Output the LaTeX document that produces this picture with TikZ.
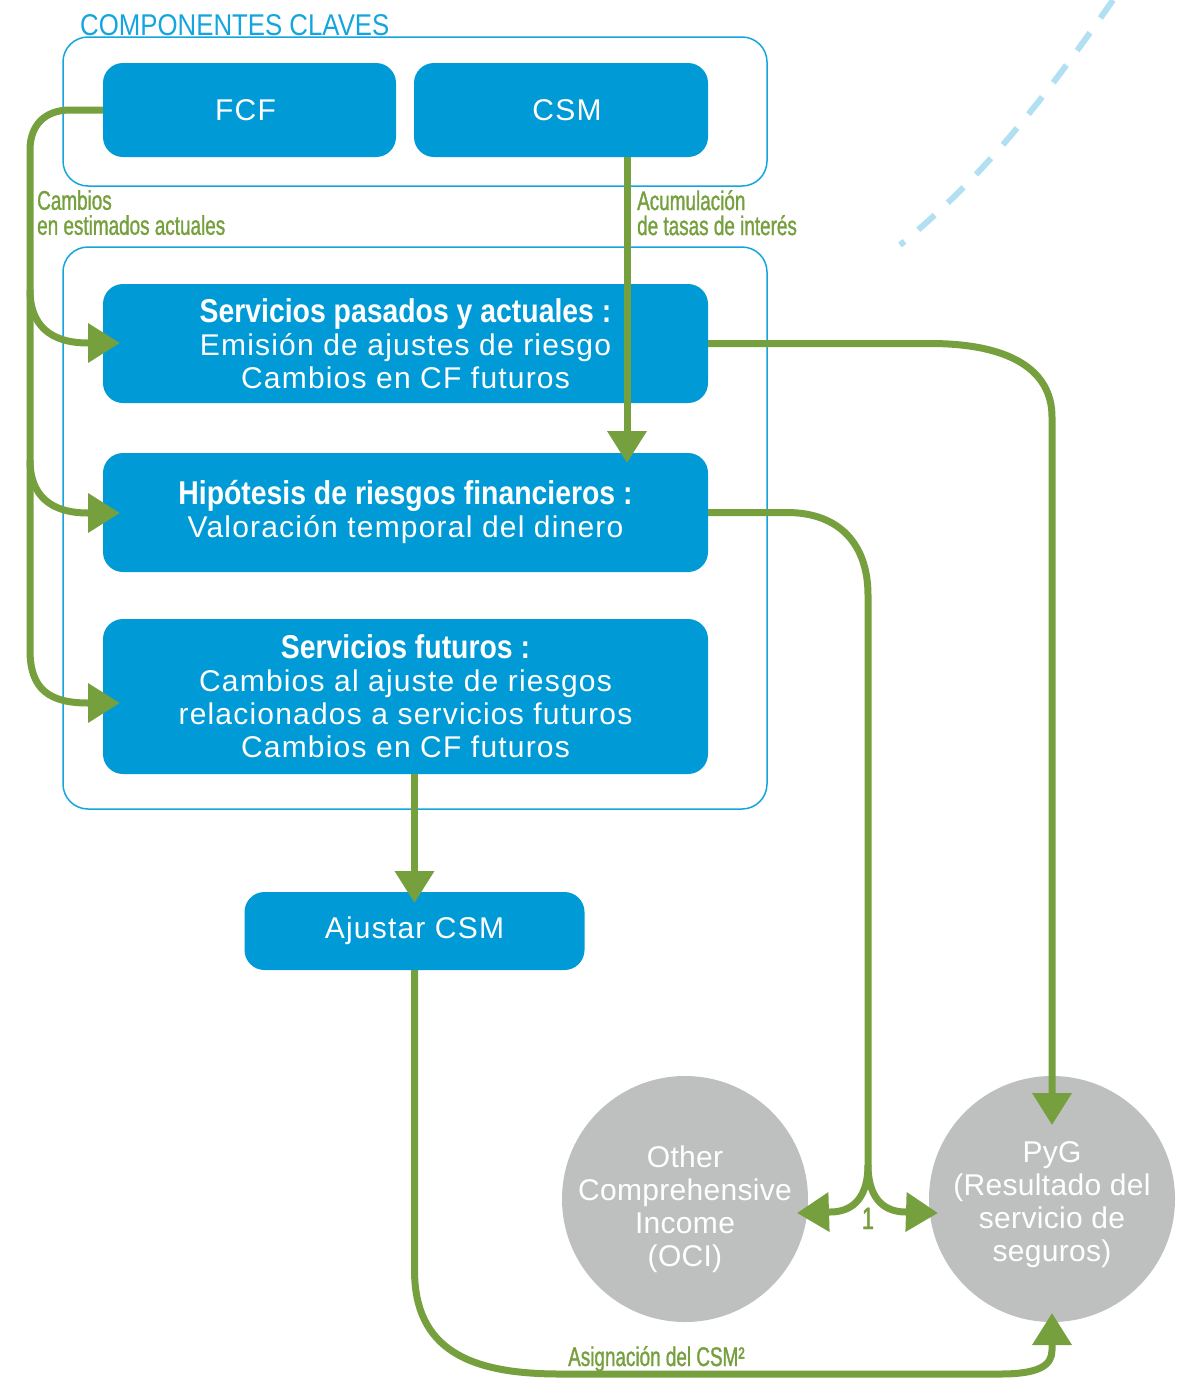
\documentclass[tikz,border=0pt]{standalone}
\usepackage{fontspec}
\setmainfont{Liberation Sans}
\newfontfamily\boxfont[LetterSpace=4]{Liberation Sans}
\newfontfamily\circfont[LetterSpace=1]{Liberation Sans}
\newfontfamily\headfont[FakeStretch=0.86]{Liberation Sans}
\newfontfamily\notefont[FakeStretch=0.7,FakeBold=1.2]{Liberation Sans}
\usetikzlibrary{arrows.meta}

\definecolor{ifrsblue}{RGB}{0,154,214}
\definecolor{frameblue}{RGB}{20,165,222}
\definecolor{flowgreen}{RGB}{118,160,62}
\definecolor{discgray}{RGB}{190,191,191}
\definecolor{dashblue}{RGB}{178,224,243}

\tikzset{
  panel/.style={rectangle, draw=frameblue, line width=1.5pt, rounded corners=25pt, inner sep=0pt},
  card/.style={rectangle, fill=ifrsblue, rounded corners=20pt, text=white, inner sep=0pt,
    align=center, font=\boxfont\fontsize{30}{33}\selectfont},
  disc/.style={circle, fill=discgray, minimum size=246pt, inner sep=0pt},
  disctext/.style={inner sep=0pt, text=white, align=center,
    font=\circfont\fontsize{30}{33}\selectfont},
  flowline/.style={draw=flowgreen, line width=7pt},
  flow/.style={flowline, -{Triangle[length=32pt,width=38pt]}},
  note/.style={text=flowgreen, inner sep=0pt, align=left, font=\notefont\fontsize{27}{25}\selectfont},
  headline/.style={text=frameblue, inner sep=0pt, font=\headfont\fontsize{30}{30}\selectfont},
  arc dashes/.style={draw=dashblue, line width=6pt, dash pattern=on 22pt off 18pt}
}

\begin{document}
\begin{tikzpicture}[x=1pt, y=-1pt]
\useasboundingbox (0,0) rectangle (1195,1379);

% containers
\node[panel, minimum width=704pt, minimum height=149pt] (keys) at (415,111.5) {};
\node[panel, minimum width=704pt, minimum height=562pt] (services) at (415,528) {};
\node[headline, anchor=base west] (title) at (80,35) {COMPONENTES CLAVES};

% decorative dashed arc
\draw[arc dashes] (1113,0) .. controls (1040,105) and (980,180) .. (900,245);

% blue cards
\node[card, minimum width=293pt, minimum height=94pt] (fcf) at (249.5,110) {\hspace*{-8pt}FCF};
\node[card, minimum width=294pt, minimum height=94pt] (csm) at (561,110) {\hspace*{12pt}CSM};
\node[card, minimum width=605pt, minimum height=119pt] (cardA) at (405.5,343.5)
  {{\headfont\bfseries\fontsize{33}{33}\selectfont Servicios pasados y actuales :}\\
   Emisión de ajustes de riesgo\\Cambios en CF futuros};
\node[card, minimum width=605pt, minimum height=119pt] (cardB) at (405.5,512.5)
  {{\headfont\bfseries\fontsize{33}{33}\selectfont Hipótesis de riesgos financieros :}\\
   Valoración temporal del dinero};
\node[card, minimum width=605pt, minimum height=155pt] (cardC) at (405.5,696.5)
  {{\headfont\bfseries\fontsize{33}{33}\selectfont Servicios futuros :}\\
   Cambios al ajuste de riesgos\\relacionados a servicios futuros\\Cambios en CF futuros};
\node[card, minimum width=340pt, minimum height=78pt] (adjust) at (414.5,931) {Ajustar CSM};

% result discs
\node[disc] (oci) at (685,1199) {};
\node[disctext] (ocitext) at (685,1209) {Other\\Comprehensive\\Income\\(OCI)};
\node[disc] (pyg) at (1052,1199) {};
\node[disctext] (pygtext) at (1052,1205) {PyG\\(Resultado del\\servicio de\\seguros)};

% connector end points
\coordinate (tipA) at (120,343);
\coordinate (tipB) at (120,513);
\coordinate (tipC) at (120,703);
\coordinate (forkA) at (30,290);
\coordinate (forkB) at (30,460);
\coordinate (csmout) at ([xshift=66pt]csm.south);
\coordinate (csmtip) at (627,463);
\coordinate (pygtop) at (1052,1125);
\coordinate (split) at (868,1165);
\coordinate (ocitip) at (797,1213);
\coordinate (pygleft) at (938,1213);
\coordinate (adjtip) at (414.5,903);
\coordinate (pygbottom) at (1052,1313);

% FCF feeds the three service cards
\draw[flow] (fcf.west) -- (70,110) .. controls (45,110) and (30,125) .. (30,150)
  -- (30,650) .. controls (30,690) and (50,703) .. (88,703) -- (tipC);
\draw[flow] (forkA) .. controls (30,325) and (50,343) .. (88,343) -- (tipA);
\draw[flow] (forkB) .. controls (30,495) and (50,513) .. (88,513) -- (tipB);

% CSM interest accretion
\draw[flow] (csmout) -- (csmtip);

% past and current services to PyG
\draw[flow] (cardA.east) -- (930,343.5) .. controls (1010,343.5) and (1052,370) .. (1052,417) -- (pygtop);

% financial risk split between OCI and PyG
\draw[flowline] (cardB.east) -- (787,512.5) .. controls (840,512.5) and (868,545) .. (868,595) -- (split);
\draw[flow] (split) .. controls (868,1195) and (855,1212) .. (830,1212) -- (ocitip);
\draw[flow] (split) .. controls (868,1195) and (881,1212) .. (906,1212) -- (pygleft);

% future services adjust the CSM
\draw[flow] (cardC.south -| adjust.north) -- (adjtip);

% CSM release to PyG
\draw[flow] (adjust.south) -- (414.5,1270) .. controls (414.5,1350) and (470,1374) .. (560,1374)
  -- (1000,1374) .. controls (1040,1374) and (1052,1365) .. (1052,1350) -- (pygbottom);

% connector labels
\node[note, anchor=north west] (lblcambios) at (37,190) {Cambios\\en estimados actuales};
\node[note, anchor=north west] (lblacum) at (637,190) {Acumulación\\de tasas de interés};
\node[note, anchor=base west] (lblasig) at (568,1366) {Asignación del CSM²};
\node[note, anchor=base, font=\notefont\fontsize{31}{31}\selectfont] (lblone) at (868,1229) {1};
\end{tikzpicture}
\end{document}
